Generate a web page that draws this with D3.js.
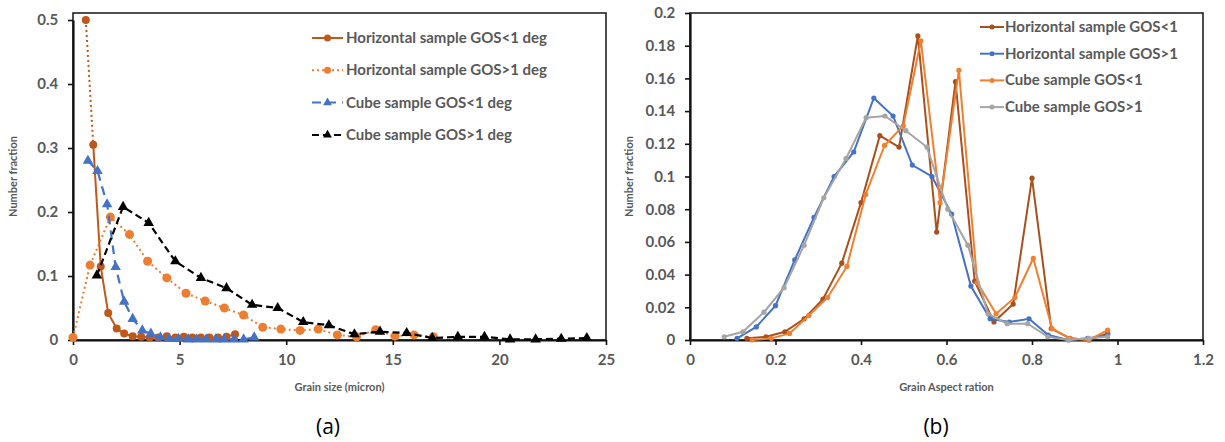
<!DOCTYPE html>
<html><head><meta charset="utf-8">
<script src="https://cdn.jsdelivr.net/npm/d3@7"></script>
<style>body{margin:0;background:#fff}svg{display:block}text{font-family:Lato,"Open Sans",sans-serif}</style>
</head><body><svg id="c" width="1225" height="442"></svg>
<script>
// ---------- Chart (a): grain size ----------
const sizeTicksX = [0,5,10,15,20,25];
const sizeTicksY = [0,0.1,0.2,0.3,0.4,0.5];
const hLowX = [0.6,0.95,1.3,1.65,2.05,2.4,2.8,3.2,3.6,4.0,4.4,4.8,5.2,5.6,6.0,6.4,6.8,7.2,7.6];
const hLowY = [0.5,0.305,0.115,0.042,0.018,0.01,0.006,0.005,0.004,0.004,0.006,0.004,0.005,0.004,0.004,0.004,0.004,0.005,0.009];
const hHighX = [0,0.8,1.75,2.65,3.5,4.4,5.3,6.2,7.1,8.0,8.9,9.75,10.65,11.5,12.4,13.3,14.2,15.1,16.0,16.9];
const hHighY = [0.004,0.117,0.192,0.165,0.123,0.097,0.073,0.061,0.050,0.039,0.020,0.017,0.015,0.017,0.008,0.005,0.016,0.006,0.008,0.005];
const cLowX = [0.7,1.15,1.6,2.0,2.4,2.8,3.25,3.65,4.1,4.5,4.95,5.4,5.8,6.25,6.7,7.1,7.55,8.0,8.5];
const cLowY = [0.28,0.264,0.212,0.114,0.06,0.033,0.015,0.01,0.004,0.002,0.002,0.001,0.001,0.001,0.001,0.001,0.001,0.001,0.004];
const cHighX = [1.12,2.35,3.55,4.8,6.0,7.2,8.4,9.6,10.8,12.0,13.2,14.4,15.65,16.85,18.05,19.3,20.5,21.7,22.9,24.1];
const cHighY = [0.101,0.208,0.183,0.123,0.097,0.081,0.055,0.050,0.028,0.023,0.009,0.013,0.011,0.003,0.005,0.005,0.001,0.001,0.002,0.003];
const sizeLegend = ["Horizontal sample GOS<1 deg","Horizontal sample GOS>1 deg","Cube sample GOS<1 deg","Cube sample GOS>1 deg"];

// ---------- Chart (b): aspect ratio ----------
const arTicksX = [0,0.2,0.4,0.6,0.8,1,1.2];
const arTicksY = [0,0.02,0.04,0.06,0.08,0.1,0.12,0.14,0.16,0.18,0.2];
const arHLowX = [0.133,0.178,0.222,0.267,0.311,0.355,0.4,0.444,0.489,0.533,0.577,0.621,0.666,0.711,0.756,0.8,0.845,0.889,0.933,0.977];
const arHLowY = [0.001,0.002,0.005,0.013,0.025,0.047,0.084,0.125,0.118,0.186,0.066,0.158,0.036,0.011,0.022,0.099,0.007,0.001,0.0,0.004];
const arHHighX = [0.11,0.155,0.2,0.245,0.29,0.337,0.383,0.43,0.475,0.52,0.566,0.612,0.657,0.702,0.747,0.793,0.838,0.885,0.93,0.977];
const arHHighY = [0.001,0.008,0.021,0.049,0.075,0.1,0.115,0.148,0.137,0.107,0.1,0.077,0.033,0.013,0.011,0.013,0.003,0.0,0.001,0.003];
const arCLowX = [0.145,0.19,0.233,0.278,0.322,0.367,0.411,0.455,0.499,0.54,0.585,0.629,0.672,0.716,0.76,0.803,0.847,0.889,0.933,0.977];
const arCLowY = [0.0,0.001,0.004,0.015,0.026,0.045,0.089,0.119,0.131,0.183,0.084,0.165,0.035,0.016,0.026,0.05,0.007,0.001,0.0,0.006];
const arCHighX = [0.08,0.124,0.173,0.22,0.267,0.313,0.365,0.412,0.456,0.505,0.554,0.603,0.65,0.697,0.742,0.79,0.837,0.885,0.933,0.977];
const arCHighY = [0.002,0.005,0.017,0.032,0.058,0.087,0.111,0.136,0.137,0.128,0.118,0.08,0.058,0.016,0.01,0.01,0.002,0.0,0.001,0.002];
const arLegend = ["Horizontal sample GOS<1","Horizontal sample GOS>1","Cube sample GOS<1","Cube sample GOS>1"];

const svg = d3.select("#c");
const zip = (xs, ys) => xs.map((x,i)=>[x, ys[i]]);
const grayTxt = "#595959";

function frame(g, x, y, xt, yt, fmtX, fmtY, top, xTitle, yTitle, yTitleX, sub, subX) {
  const [x0,x1] = x.range(), [y0] = y.range();
  g.append("rect").attr("x",x0).attr("y",top).attr("width",x1-x0).attr("height",y0-top)
    .attr("fill","none").attr("stroke","#222").attr("stroke-width",1.6);
  const ax = g.append("g").attr("transform",`translate(0,${y0})`)
    .call(d3.axisBottom(x).tickValues(xt).tickFormat(fmtX).tickSize(5).tickSizeOuter(0));
  const ay = g.append("g").attr("transform",`translate(${x0},0)`)
    .call(d3.axisLeft(y).tickValues(yt).tickFormat(fmtY).tickSize(5).tickSizeOuter(0));
  [ax, ay].forEach(a => {
    a.select(".domain").attr("stroke","#111").attr("stroke-width",2.2);
    a.selectAll(".tick line").attr("stroke","#111").attr("stroke-width",1.6);
    a.selectAll("text").attr("fill",grayTxt).attr("font-size",15).attr("font-weight","bold")
      .style("font-family","Lato,sans-serif");
  });
  ax.selectAll("text").attr("dy","1.1em");
  ay.selectAll("text").attr("dx","-0.45em");
  g.append("text").attr("x",(x0+x1)/2).attr("y",391).attr("text-anchor","middle")
    .attr("fill",grayTxt).attr("font-size",11).attr("font-weight","bold").text(xTitle);
  g.append("text").attr("transform",`translate(${yTitleX},${(y0+top)/2}) rotate(-90)`)
    .attr("text-anchor","middle").attr("fill",grayTxt).attr("font-size",11).attr("font-weight","bold").text(yTitle);
  g.append("text").attr("x",subX).attr("y",434).attr("text-anchor","middle")
    .attr("fill","#000").attr("font-size",21).style("font-family","'Open Sans',sans-serif").text(sub);
}

// ---------- draw (a) ----------
const xA = d3.scaleLinear().domain([0,25]).range([73,606]);
const yA = d3.scaleLinear().domain([0,0.5]).range([340,20]);
const gA = svg.append("g");
frame(gA, xA, yA, sizeTicksX, sizeTicksY, d3.format("d"), d=>d===0?"0":d3.format(".1f")(d), 13,
  "Grain size (micron)", "Number fraction", 17, "(a)", 328);

const lineA = d3.line().x(d=>xA(d[0])).y(d=>yA(d[1]));
const tri = d3.symbol().type(d3.symbolTriangle).size(48);
const cBrown = "#c0581b", cOrange = "#ed7d31", cBlue = "#4472c4";
const seriesA = [
  {pts: zip(hLowX,hLowY), color: cBrown, dash: null, w: 2, mark: "circle", r: 4},
  {pts: zip(hHighX,hHighY), color: cOrange, dash: "2,3", w: 2, mark: "circle", r: 4.5},
  {pts: zip(cLowX,cLowY), color: cBlue, dash: "9,6", w: 2.2, mark: "tri"},
  {pts: zip(cHighX,cHighY), color: "#000", dash: "7,4", w: 2.2, mark: "tri"}
];
seriesA.forEach((s,si) => {
  if (si === 0) {
    gA.append("path").attr("d", lineA(s.pts.slice(0,2))).attr("fill","none")
      .attr("stroke",s.color).attr("stroke-width",2).attr("stroke-dasharray","2,3");
    gA.append("path").attr("d", lineA(s.pts.slice(1))).attr("fill","none")
      .attr("stroke",s.color).attr("stroke-width",s.w);
  } else {
    gA.append("path").attr("d", lineA(s.pts)).attr("fill","none")
      .attr("stroke",s.color).attr("stroke-width",s.w).attr("stroke-dasharray",s.dash);
  }
  s.pts.forEach(p => {
    if (s.mark === "circle") gA.append("circle").attr("cx",xA(p[0])).attr("cy",yA(p[1])).attr("r",s.r).attr("fill",s.color);
    else gA.append("path").attr("d",tri).attr("transform",`translate(${xA(p[0])},${yA(p[1])})`).attr("fill",s.color);
  });
});
seriesA.forEach((s,i) => {
  const ly = 38 + i*32.3;
  gA.append("line").attr("x1",312).attr("x2",343).attr("y1",ly).attr("y2",ly)
    .attr("stroke",s.color).attr("stroke-width",2).attr("stroke-dasharray",s.dash);
  if (s.mark === "circle") gA.append("circle").attr("cx",327.5).attr("cy",ly).attr("r",3.5).attr("fill",s.color);
  else gA.append("path").attr("d",d3.symbol().type(d3.symbolTriangle).size(34)).attr("transform",`translate(327.5,${ly})`).attr("fill",s.color);
  gA.append("text").attr("x",346).attr("y",ly+5).attr("fill",grayTxt).attr("font-size",15)
    .attr("font-weight","bold").text(sizeLegend[i]);
});

// ---------- draw (b) ----------
const xB = d3.scaleLinear().domain([0,1.2]).range([690,1203]);
const yB = d3.scaleLinear().domain([0,0.2]).range([340,13]);
const gB = svg.append("g");
frame(gB, xB, yB, arTicksX, arTicksY, d=>String(+d.toFixed(1)), d=>String(+d.toFixed(2)), 13,
  "Grain Aspect ration", "Number fraction", 633, "(b)", 936);
const lineB = d3.line().x(d=>xB(d[0])).y(d=>yB(d[1]));
const seriesB = [
  {pts: zip(arHLowX,arHLowY), color: "#a9501c"},
  {pts: zip(arHHighX,arHHighY), color: cBlue},
  {pts: zip(arCLowX,arCLowY), color: "#f07f30"},
  {pts: zip(arCHighX,arCHighY), color: "#a5a5a5"}
];
seriesB.forEach(s => {
  gB.append("path").attr("d", lineB(s.pts)).attr("fill","none").attr("stroke",s.color).attr("stroke-width",2);
  s.pts.forEach(p => gB.append("circle").attr("cx",xB(p[0])).attr("cy",yB(p[1])).attr("r",2.6).attr("fill",s.color));
});
seriesB.forEach((s,i) => {
  const ly = 27 + i*26.7;
  gB.append("line").attr("x1",980).attr("x2",1004).attr("y1",ly).attr("y2",ly).attr("stroke",s.color).attr("stroke-width",2);
  gB.append("circle").attr("cx",992).attr("cy",ly).attr("r",2.5).attr("fill",s.color);
  gB.append("text").attr("x",1005).attr("y",ly+5).attr("fill",grayTxt).attr("font-size",15)
    .attr("font-weight","bold").text(arLegend[i]);
});
</script></body></html>
